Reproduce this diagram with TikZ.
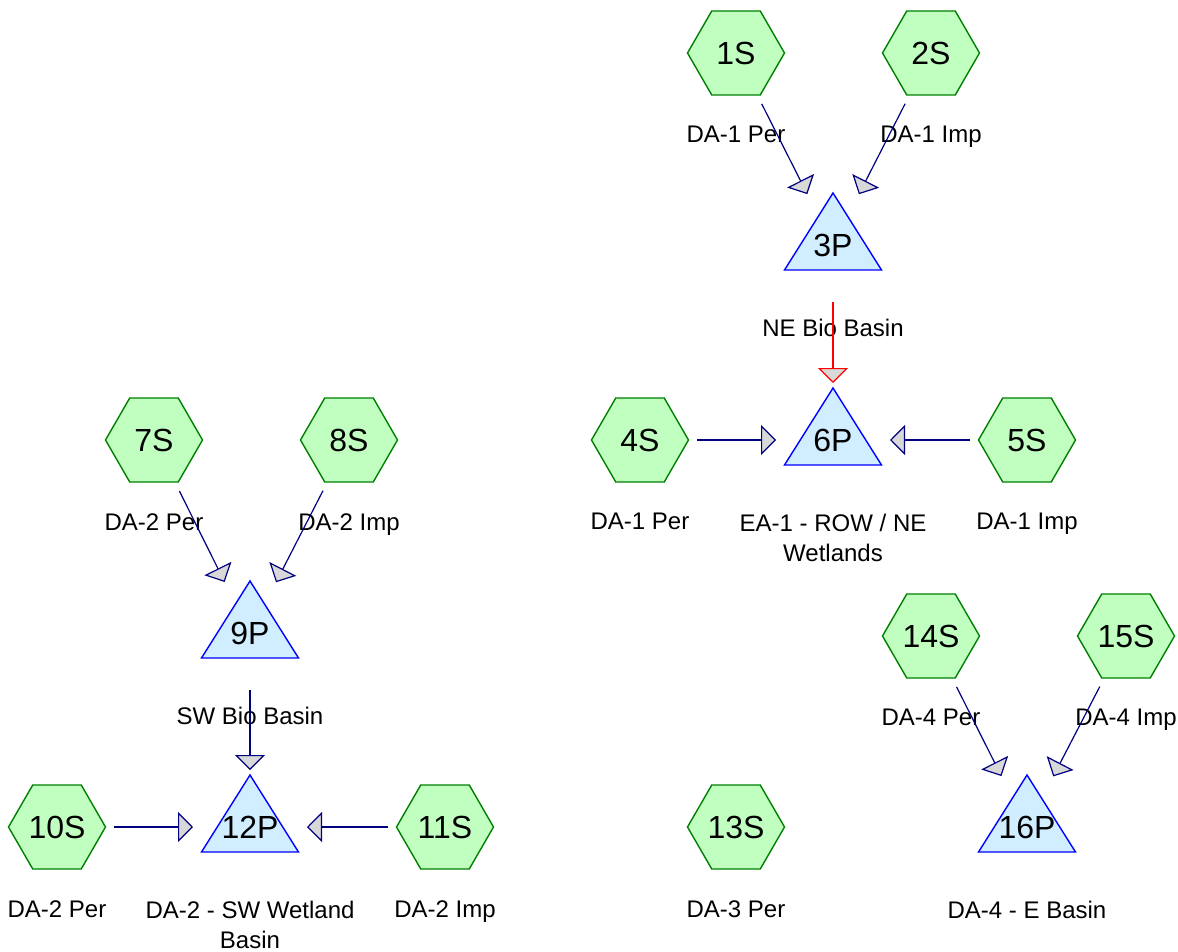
\documentclass[tikz,border=0pt]{standalone}
\usepackage{fontspec}
\setmainfont{Liberation Sans}
\usetikzlibrary{shapes.geometric,arrows.meta}
\definecolor{subfill}{RGB}{192,255,192}
\definecolor{subline}{RGB}{0,128,0}
\definecolor{pondfill}{RGB}{208,238,255}
\definecolor{pondline}{RGB}{0,0,255}
\definecolor{flowline}{RGB}{0,0,128}
\definecolor{headfill}{RGB}{216,216,216}

\begin{document}
\begin{tikzpicture}[x=0.5pt,y=-0.5pt,
  sub/.style={regular polygon,regular polygon sides=6,minimum size=48.5pt,inner sep=0pt,
    draw=subline,fill=subfill,line width=0.7pt,font=\fontsize{16}{19}\selectfont},
  pond/.style={draw=pondline,fill=pondfill,line width=0.7pt,line join=miter},
  pondtxt/.style={inner sep=0pt,font=\fontsize{16}{19}\selectfont},
  lbl/.style={anchor=north,inner sep=0pt,align=center,font=\fontsize{12}{15}\selectfont},
  flow/.style={draw=flowline,line width=0.6pt,shorten <=28.5pt,shorten >=28.5pt,
    -{Triangle[length=7.5pt,width=15pt,fill=headfill]}}]
\useasboundingbox (0,0) rectangle (1178,952);

% Ponds
\foreach \n/\x/\y/\t in {3P/833/193/NE Bio Basin,
    6P/833/388/{EA-1 - ROW / NE\\Wetlands},
    9P/250/581/SW Bio Basin,
    12P/250/775/{DA-2 - SW Wetland\\Basin},
    16P/1027/775/DA-4 - E Basin}{
  \filldraw[pond] (\x,\y) -- ++(48.5,77) -- ++(-97,0) -- cycle;
  \node[pondtxt] (\n) at (\x,\y+52) {\n};
  \node[lbl] (\n-lbl) at (\x,\y+125.5) {\t};
}

% Subcatchments
\foreach \n/\x/\y/\t in {1S/736/53/DA-1 Per, 2S/931/53/DA-1 Imp,
    4S/640/440/DA-1 Per, 5S/1027/440/DA-1 Imp,
    7S/154/440/DA-2 Per, 8S/349/440/DA-2 Imp,
    10S/57/827/DA-2 Per, 11S/445/827/DA-2 Imp,
    13S/736/827/DA-3 Per,
    14S/931/636/DA-4 Per, 15S/1126/636/DA-4 Imp}{
  \node[sub] (\n) at (\x,\y) {\n};
  \node[lbl] (\n-lbl) at (\x,\y+73) {\t};
}

% Flows
\draw[flow] (1S.center) -- (3P.center);
\draw[flow] (2S.center) -- (3P.center);
\draw[flow,draw=red] (3P.center) -- (6P.center);
\draw[flow] (4S.center) -- (6P.center);
\draw[flow] (5S.center) -- (6P.center);
\draw[flow] (7S.center) -- (9P.center);
\draw[flow] (8S.center) -- (9P.center);
\draw[flow] (9P.center) -- (12P.center);
\draw[flow] (10S.center) -- (12P.center);
\draw[flow] (11S.center) -- (12P.center);
\draw[flow] (14S.center) -- (16P.center);
\draw[flow] (15S.center) -- (16P.center);
\end{tikzpicture}
\end{document}
